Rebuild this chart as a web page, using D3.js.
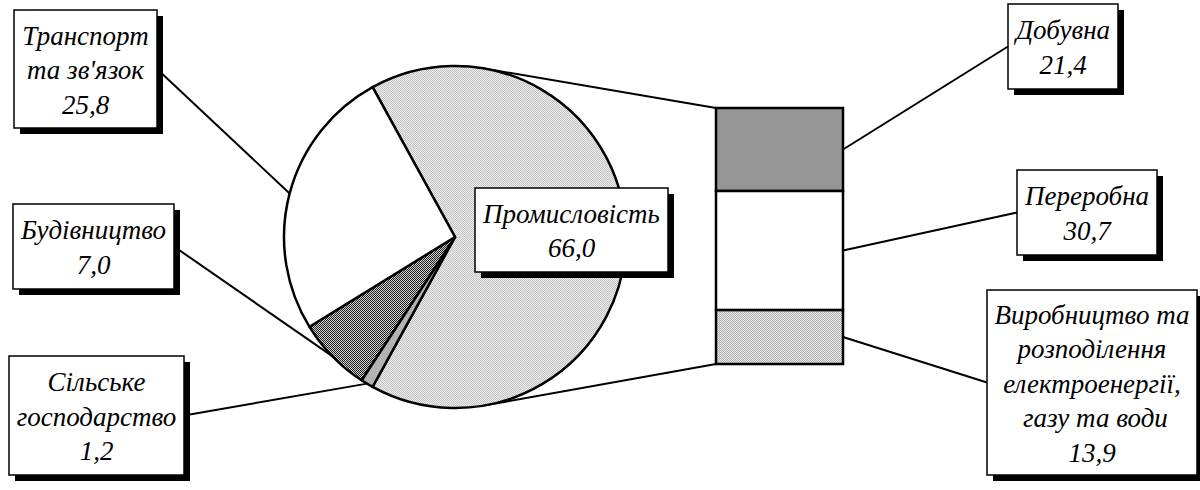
<!DOCTYPE html>
<html>
<head>
<meta charset="utf-8">
<script src="https://cdn.jsdelivr.net/npm/d3@7"></script>
<style>
html, body { margin: 0; padding: 0; background: #fff; }
svg { display: block; }
text.lbl { font-family: "Liberation Serif", "Times New Roman", serif; font-style: italic; font-size: 27px; }
</style>
</head>
<body>
<svg id="chart" width="1200" height="490"></svg>
<script>
// pie data (share of total, %)
var pieCategories = ["Промисловість", "Сільське господарство", "Будівництво", "Транспорт та зв'язок"];
var pieValues = [66.0, 1.2, 7.0, 25.8];
var pieLabelLines = [["Промисловість"], ["Сільське", "господарство"], ["Будівництво"], ["Транспорт", "та зв'язок"]];

// bar data (breakdown of "Промисловість")
var barCategories = ["Добувна", "Переробна", "Виробництво та розподілення електроенергії, газу та води"];
var barValues = [21.4, 30.7, 13.9];
var barLabelLines = [["Добувна"], ["Переробна"], ["Виробництво та", "розподілення", "електроенергії,", "\u00a0газу та води"]];

// layout
var CX = 455, CY = 237, R = 171;
var BAR_X = 716, BAR_W = 127, BAR_TOP = 108, BAR_BOTTOM = 364;
var LINE_H = 34.5;

// label boxes: x, y, w, h
var pieBoxes = [[475, 188, 193, 84], [9, 356, 175, 119], [13, 204, 161, 85], [14, 10, 143, 118]];
var barBoxes = [[1008, 4, 110, 85], [1017, 170, 140, 85], [987, 290, 210, 185]];

var pieFills = ["url(#dotsLight)", "#b3b3b3", "url(#checkDark)", "#ffffff"];
var barFills = ["#969696", "#ffffff", "url(#dotsBar)"];

var fmt = d3.formatLocale({ decimal: ",", thousands: " ", grouping: [3], currency: ["", ""] }).format(".1f");

var svg = d3.select("#chart");

function addPattern(id, bg, fg) {

	var p = svg.select("defs").append("pattern") //
	.attr("id", id) //
	.attr("patternUnits", "userSpaceOnUse") //
	.attr("width", 2) //
	.attr("height", 2);

	p.append("rect").attr("width", 2).attr("height", 2).attr("fill", bg);
	p.append("rect").attr("x", 0).attr("y", 0).attr("width", 1).attr("height", 1).attr("fill", fg);
	p.append("rect").attr("x", 1).attr("y", 1).attr("width", 1).attr("height", 1).attr("fill", fg);

}// END: addPattern

function tangentPoint(px, py, upper) {

	var d = Math.hypot(px - CX, py - CY);
	var a = Math.atan2(py - CY, px - CX);
	var b = Math.acos(R / d);
	var ang = upper ? a - b : a + b;

	return [CX + R * Math.cos(ang), CY + R * Math.sin(ang)];

}// END: tangentPoint

function drawBox(layer, box, lines) {

	var g = layer.append("g");

	g.append("rect") //
	.attr("x", box[0] + 6) //
	.attr("y", box[1] + 6) //
	.attr("width", box[2]) //
	.attr("height", box[3]) //
	.attr("fill", "#000");

	g.append("rect") //
	.attr("x", box[0]) //
	.attr("y", box[1]) //
	.attr("width", box[2]) //
	.attr("height", box[3]) //
	.attr("fill", "#fff") //
	.attr("stroke", "#000") //
	.attr("stroke-width", 1.5);

	var n = lines.length;
	var mid = box[1] + box[3] / 2;

	g.selectAll("text").data(lines).enter().append("text") //
	.attr("class", "lbl") //
	.attr("x", box[0] + box[2] / 2) //
	.attr("y", function(d, i) {

		return (mid + (i - (n - 1) / 2) * LINE_H + 10);

	}) //
	.attr("text-anchor", "middle") //
	.attr("fill", "#000") //
	.text(function(d) {

		return (d);

	});

}// END: drawBox

svg.append("defs");
addPattern("dotsLight", "#eeeeee", "#c2c2c2");
addPattern("checkDark", "#d0d0d0", "#222222");
addPattern("dotsBar", "#e4e4e4", "#b4b4b4");

var linesLayer = svg.append("g");
var pieLayer = svg.append("g").attr("transform", "translate(" + CX + "," + CY + ")");
var barLayer = svg.append("g");
var labelsLayer = svg.append("g");

// pie
var total = d3.sum(pieValues);
var start = Math.PI / 2 - Math.PI * pieValues[0] / total;

var pie = d3.pie().sort(null).value(function(d) {

	return (d);

}).startAngle(start).endAngle(start + 2 * Math.PI);

var arcs = pie(pieValues);
var arc = d3.arc().innerRadius(0).outerRadius(R);

pieLayer.selectAll("path").data(arcs).enter().append("path") //
.attr("d", arc) //
.attr("fill", function(d, i) {

	return (pieFills[i]);

}) //
.attr("stroke", "#000") //
.attr("stroke-width", 2.5) //
.attr("stroke-linejoin", "miter");

// bar
var barTotal = d3.sum(barValues);
var y = d3.scaleLinear().domain([0, barTotal]).range([BAR_TOP, BAR_BOTTOM]);
var stacked = [];
var acc = 0;

barValues.forEach(function(v, i) {

	stacked.push({ y0: acc, y1: acc + v, index: i });
	acc += v;

});

barLayer.selectAll("rect").data(stacked).enter().append("rect") //
.attr("x", BAR_X) //
.attr("y", function(d) {

	return (y(d.y0));

}) //
.attr("width", BAR_W) //
.attr("height", function(d) {

	return (y(d.y1) - y(d.y0));

}) //
.attr("fill", function(d) {

	return (barFills[d.index]);

}) //
.attr("stroke", "#000") //
.attr("stroke-width", 2.5);

// series lines: tangents from the pie to the bar corners
var topPt = tangentPoint(BAR_X, y(0), true);
var botPt = tangentPoint(BAR_X, y(barTotal), false);

linesLayer.selectAll("line.series").data([[topPt, [BAR_X, y(0)]], [botPt, [BAR_X, y(barTotal)]]]).enter().append("line") //
.attr("class", "series") //
.attr("x1", function(d) { return (d[0][0]); }) //
.attr("y1", function(d) { return (d[0][1]); }) //
.attr("x2", function(d) { return (d[1][0]); }) //
.attr("y2", function(d) { return (d[1][1]); }) //
.attr("stroke", "#000") //
.attr("stroke-width", 2);

// leader lines from the labels
arcs.forEach(function(d, i) {

	if (i === 0) {
		return;
	}

	var m = (d.startAngle + d.endAngle) / 2;
	var box = pieBoxes[i];

	labelsLayer.append("line") //
	.attr("x1", box[0] + box[2]) //
	.attr("y1", box[1] + box[3] / 2) //
	.attr("x2", CX + R * Math.sin(m)) //
	.attr("y2", CY - R * Math.cos(m)) //
	.attr("stroke", "#000") //
	.attr("stroke-width", 2);

});

stacked.forEach(function(d) {

	var box = barBoxes[d.index];

	labelsLayer.append("line") //
	.attr("x1", BAR_X + BAR_W) //
	.attr("y1", (y(d.y0) + y(d.y1)) / 2) //
	.attr("x2", box[0]) //
	.attr("y2", box[1] + box[3] / 2) //
	.attr("stroke", "#000") //
	.attr("stroke-width", 2);

});

// label boxes
pieValues.forEach(function(v, i) {

	drawBox(labelsLayer, pieBoxes[i], pieLabelLines[i].concat([fmt(v)]));

});

barValues.forEach(function(v, i) {

	drawBox(labelsLayer, barBoxes[i], barLabelLines[i].concat([fmt(v)]));

});
</script>
</body>
</html>
